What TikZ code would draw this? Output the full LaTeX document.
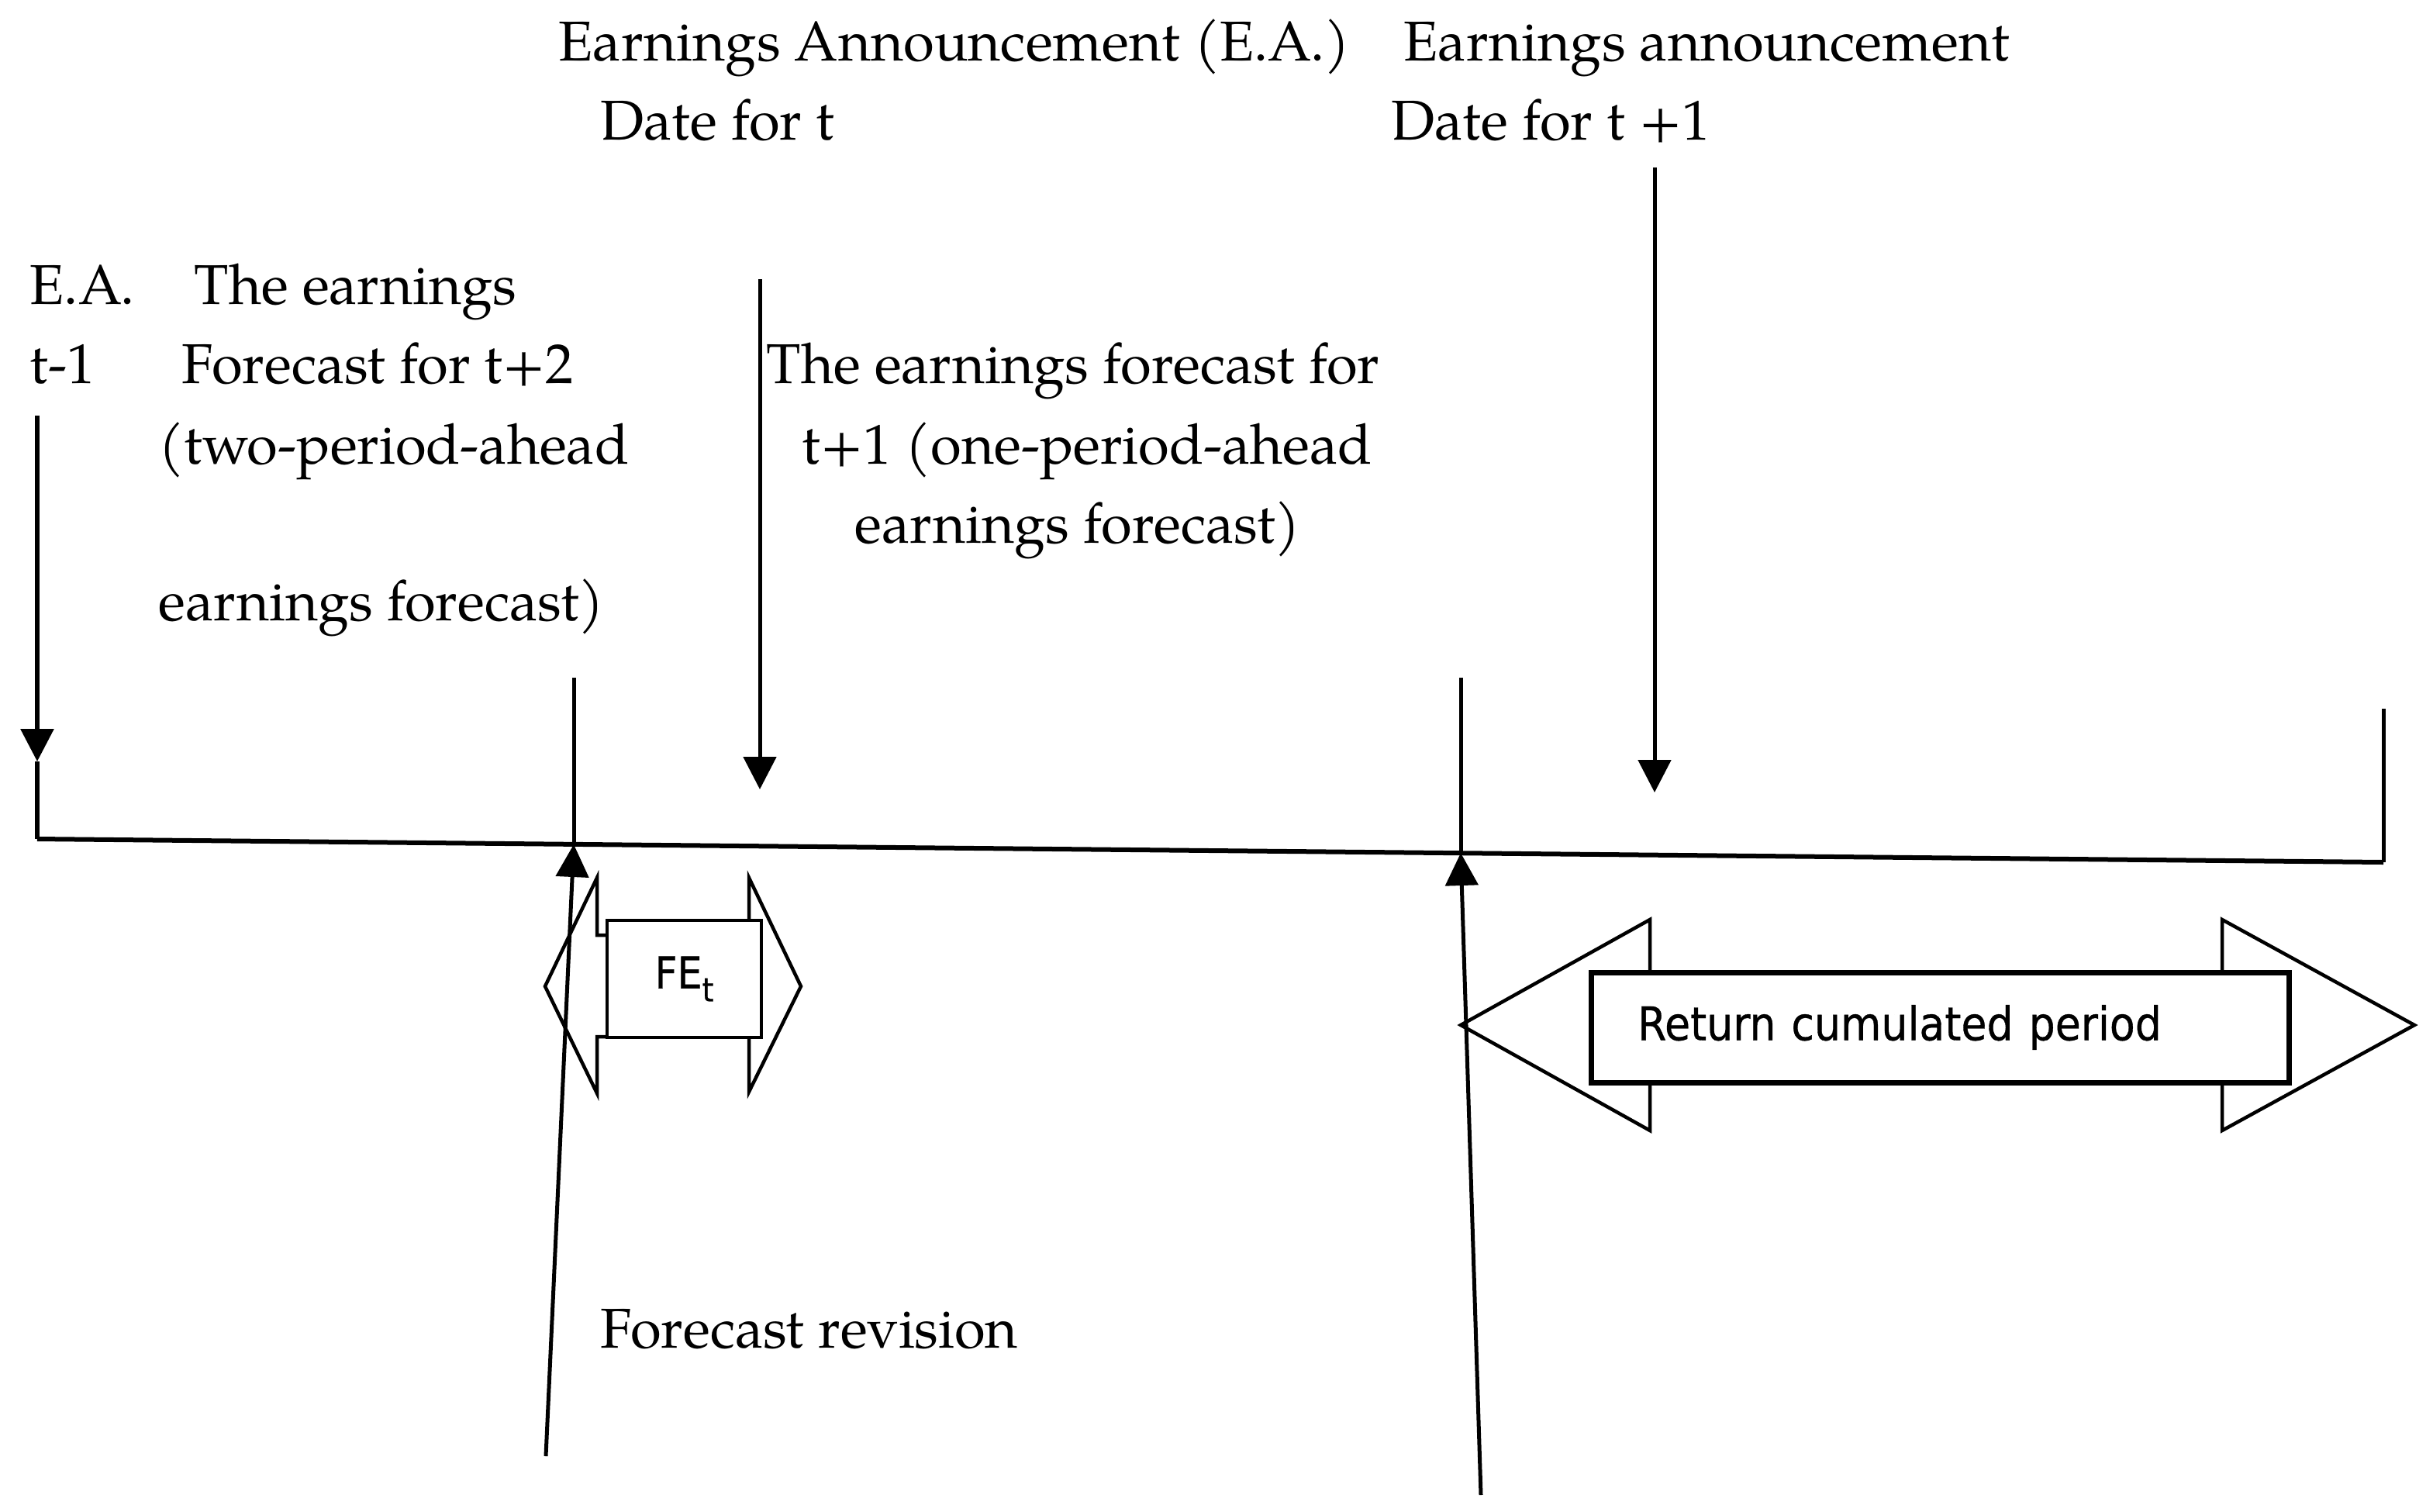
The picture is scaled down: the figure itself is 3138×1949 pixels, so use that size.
\documentclass[tikz,border=0pt]{standalone}
\usepackage{fontspec}
\setmainfont{TeX Gyre Pagella}
\newfontfamily\boxfont[FakeStretch=0.9,FakeBold=0.6]{DejaVu Sans}
\usetikzlibrary{arrows.meta}
\begin{document}
\begin{tikzpicture}[x=0.1mm,y=-0.1mm,
  lbl/.style={anchor=base west, inner sep=0pt, font=\fontsize{20.6}{25}\selectfont},
  ln/.style={line width=0.5mm},
  tip/.style={-{Triangle[length=4.2mm,width=4.2mm]}},
  blockarrow/.style={line width=0.45mm, fill=white, line join=miter},
  boxnode/.style={draw, fill=white, inner sep=0pt}
]
\useasboundingbox (0,0) rectangle (3138,1949);

% texts
\node[lbl] (ea) at (720,78) {Earnings Announcement (E.A.)};
\node[lbl] (ea1) at (1810,78) {Earnings announcement};
\node[lbl] (dt) at (774,180) {Date for t};
\node[lbl] (dt1) at (1794,180) {Date for t +1};
\node[lbl] (eam) at (38,392) {E.A.};
\node[lbl] (the) at (250,392) {The earnings};
\node[lbl] (tm) at (38,494) {t-1};
\node[lbl] (fc2) at (234,494) {Forecast for t+2};
\node[lbl] (two) at (204,598) {(two-period-ahead};
\node[lbl] (ef2) at (204,800) {earnings forecast)};
\node[lbl] (tef) at (988,494) {The earnings forecast for};
\node[lbl] (one) at (1034,598) {t+1 (one-period-ahead};
\node[lbl] (ef1) at (1102,700) {earnings forecast)};
\node[lbl] (rev) at (774,1738) {Forecast revision};

% timeline
\coordinate (tl0) at (48,1082);
\coordinate (tl1) at (3074,1112);
\coordinate (tlA) at (740,1089);
\coordinate (tlB) at (1884,1100);
\draw[line width=0.6mm] (tl0) -- (tl1);
\coordinate (rtop) at (3074,914);
\draw[ln] (rtop) -- (tl1);

% left arrow (E.A. t-1)
\coordinate (l0) at (48,536);
\coordinate (l1) at (48,982);
\draw[line width=0.6mm, tip] (l0) -- (l1);
\draw[line width=0.6mm] (l1) -- (tl0);

% down arrows
\coordinate (d1s) at (980,360);
\coordinate (d1e) at (980,1018);
\draw[ln, tip] (d1s) -- (d1e);
\coordinate (d2s) at (2134,216);
\coordinate (d2e) at (2134,1022);
\draw[ln, tip] (d2s) -- (d2e);

% vertical markers
\coordinate (vA) at (740,874);
\coordinate (vB) at (1884,874);
\draw[ln] (vA) -- (tlA);
\draw[ln] (vB) -- (tlB);

% FE block arrow
\draw[blockarrow] (703,1272) -- (770,1132) -- (770,1206) -- (966,1206) -- (966,1132)
  -- (1033,1272) -- (966,1408) -- (966,1337) -- (770,1337) -- (770,1410) -- cycle;
\node[boxnode, line width=0.45mm, minimum width=19.9mm, minimum height=15.1mm,
  font=\boxfont\fontsize{16}{18}\selectfont] (fe) at (882.5,1262.5)
  {FE\raisebox{-0.3em}{\fontsize{12}{13}\selectfont t}};

% Return block arrow
\draw[blockarrow] (1884,1322) -- (2128,1186) -- (2128,1254) -- (2866,1254) -- (2866,1186)
  -- (3114,1322) -- (2866,1458) -- (2866,1396) -- (2128,1396) -- (2128,1458) -- cycle;
\node[boxnode, line width=0.7mm, minimum width=90mm, minimum height=14.2mm,
  text width=78mm, inner xsep=6mm, align=left,
  font=\boxfont\fontsize{17}{20}\selectfont] (ret) at (2502,1325) {Return cumulated period};

% up arrows (forecast revision)
\coordinate (uA) at (704,1878);
\coordinate (uB) at (1910,1928);
\draw[ln, tip] (uA) -- (tlA);
\draw[ln, tip] (uB) -- (tlB);
\end{tikzpicture}
\end{document}
